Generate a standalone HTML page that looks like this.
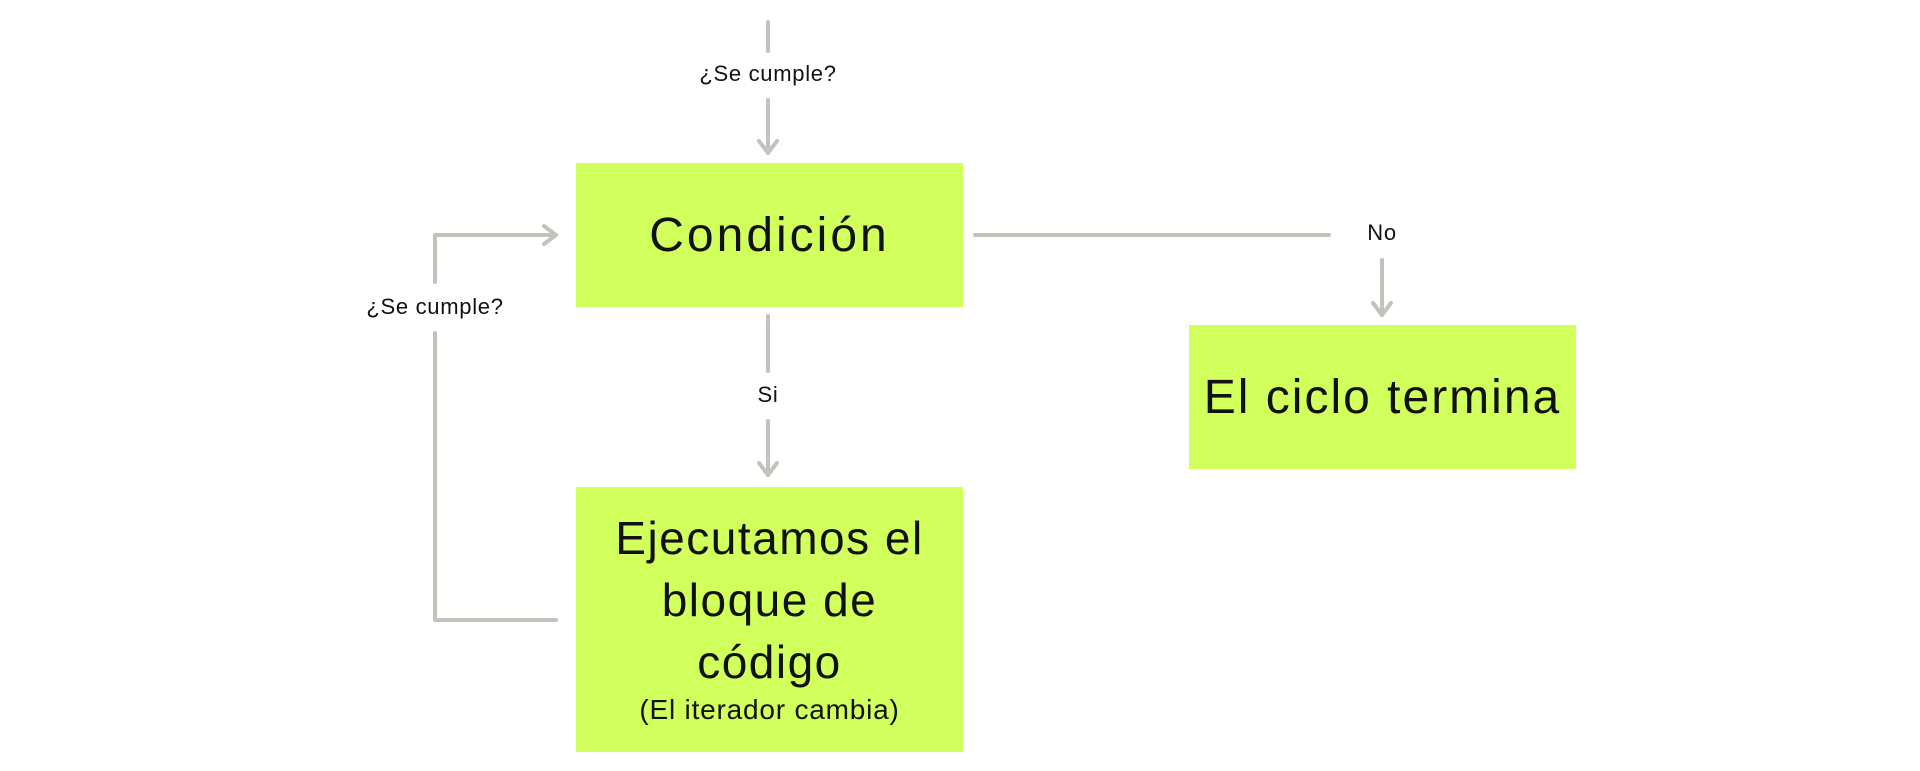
<!DOCTYPE html>
<html><head><meta charset="utf-8"><style>
html,body{margin:0;padding:0;background:#fff;width:1920px;height:771px;overflow:hidden;font-family:"Liberation Sans",sans-serif;}
.box{position:absolute;background:#d1ff5c;display:flex;align-items:center;justify-content:center;text-align:center;color:#111;}
.lbl{position:absolute;font-size:22px;color:#111;transform:translate(-50%,-50%);white-space:nowrap;letter-spacing:0.7px;}
</style></head><body>
<svg width="1920" height="771" style="position:absolute;left:0;top:0" fill="none" stroke="#c4c2bb" stroke-width="4" stroke-linecap="round" stroke-linejoin="round">
<line x1="768" y1="22" x2="768" y2="51"/>
<line x1="768" y1="100" x2="768" y2="153"/>
<polyline points="759,141 768,153 777,141"/>
<line x1="975" y1="235" x2="1329" y2="235"/>
<line x1="1382" y1="260" x2="1382" y2="315"/>
<polyline points="1373,303 1382,315 1391,303"/>
<line x1="768" y1="316" x2="768" y2="371"/>
<line x1="768" y1="421" x2="768" y2="475"/>
<polyline points="759,463 768,475 777,463"/>
<polyline points="556,620 435,620 435,333"/>
<polyline points="435,282 435,235 556,235"/>
<polyline points="544,226 556,235 544,244"/>
</svg>
<div class="lbl" style="left:768px;top:74px">¿Se cumple?</div>
<div class="lbl" style="left:1382px;top:233px">No</div>
<div class="lbl" style="left:768px;top:395px">Si</div>
<div class="lbl" style="left:435px;top:307px">¿Se cumple?</div>
<div class="box" style="left:576px;top:163px;width:387px;height:144px;font-size:48px;letter-spacing:3px">Condición</div>
<div class="box" style="left:1189px;top:325px;width:387px;height:144px;font-size:48px;letter-spacing:2px">El ciclo termina</div>
<div class="box" style="left:576px;top:487px;width:387px;height:265px;flex-direction:column;">
<div style="font-size:46px;line-height:62px;letter-spacing:1.5px;margin-top:-6px">Ejecutamos el<br>bloque de<br>código</div>
<div style="font-size:28px;line-height:34px;letter-spacing:0.8px">(El iterador cambia)</div>
</div>
</body></html>
